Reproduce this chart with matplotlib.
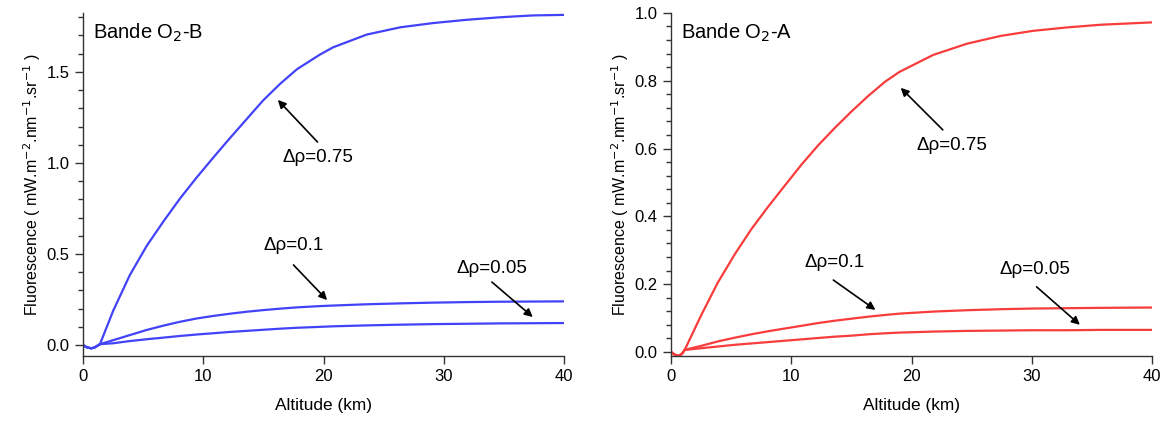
import numpy as np
import matplotlib.pyplot as plt
from matplotlib.ticker import MultipleLocator

plt.rcParams['font.family'] = ['Liberation Sans', 'DejaVu Sans']

# Bande O2-B : altitude (km) and fluorescence for each delta rho
alt_b = [0, 0.3, 0.7, 1.0, 1.41, 2.52, 3.9, 5.3, 6.7, 8.07, 9.45, 10.84, 12.2, 13.6, 15.0, 16.4,
         17.8, 19.7, 20.8, 23.6, 26.4, 29.1, 31.9, 34.7, 37.4, 40]
b_075 = [0, -0.012, -0.018, -0.012, 0.005, 0.19, 0.385, 0.545, 0.68, 0.805, 0.92, 1.03, 1.135, 1.24, 1.345, 1.435,
         1.515, 1.595, 1.635, 1.705, 1.745, 1.768, 1.786, 1.80, 1.81, 1.813]
b_010 = [0, -0.012, -0.018, -0.012, 0.005, 0.027, 0.055, 0.083, 0.107, 0.128, 0.146, 0.16, 0.172, 0.183, 0.192, 0.2,
         0.207, 0.214, 0.217, 0.224, 0.229, 0.233, 0.236, 0.238, 0.239, 0.24]
b_005 = [0, -0.012, -0.018, -0.012, 0.005, 0.01, 0.022, 0.032, 0.041, 0.05, 0.058, 0.065, 0.072, 0.078, 0.084, 0.09,
         0.095, 0.1, 0.103, 0.108, 0.112, 0.115, 0.117, 0.119, 0.12, 0.121]

# Bande O2-A
alt_a = [0, 0.3, 0.6, 0.9, 1.14, 2.52, 3.9, 5.3, 6.68, 8.07, 9.45, 10.84, 12.2, 13.6, 15.0, 16.4,
         17.8, 19.0, 21.8, 24.6, 27.4, 30.1, 32.9, 35.7, 40]
a_075 = [0, -0.008, -0.012, -0.006, 0.006, 0.109, 0.205, 0.288, 0.362, 0.428, 0.49, 0.552, 0.608, 0.66, 0.709, 0.755,
         0.797, 0.826, 0.876, 0.909, 0.932, 0.947, 0.957, 0.965, 0.972]
a_010 = [0, -0.008, -0.012, -0.006, 0.006, 0.018, 0.031, 0.042, 0.052, 0.061, 0.069, 0.077, 0.085, 0.092, 0.098, 0.104,
         0.109, 0.113, 0.119, 0.123, 0.126, 0.128, 0.129, 0.13, 0.131]
a_005 = [0, -0.008, -0.012, -0.006, 0.006, 0.011, 0.016, 0.021, 0.025, 0.029, 0.033, 0.037, 0.041, 0.045, 0.048, 0.052,
         0.055, 0.057, 0.06, 0.062, 0.063, 0.064, 0.064, 0.065, 0.065]

fig = plt.figure(figsize=(11.69, 4.21), dpi=100)
ax1 = fig.add_axes([0.071, 0.1544, 0.4115, 0.815])
ax2 = fig.add_axes([0.574, 0.1544, 0.4115, 0.815])

blue = '#4242f8'
red = '#f83c3c'

for y in (b_075, b_010, b_005):
    ax1.plot(alt_b, y, color=blue, lw=1.6)
for y in (a_075, a_010, a_005):
    ax2.plot(alt_a, y, color=red, lw=1.6)

ax1.set_ylim(-0.06, 1.824)
ax2.set_ylim(-0.012, 1.0)
ax1.yaxis.set_major_locator(MultipleLocator(0.5))
ax1.yaxis.set_minor_locator(MultipleLocator(0.1))
ax2.yaxis.set_major_locator(MultipleLocator(0.2))
ax2.yaxis.set_minor_locator(MultipleLocator(0.04))

ylab = 'Fluorescence ( mW.m$^{-2}$.nm$^{-1}$.sr$^{-1}$ )'
for ax, name in ((ax1, 'Bande O$_2$-B'), (ax2, 'Bande O$_2$-A')):
    ax.set_xlim(0, 40)
    ax.set_xticks([0, 10, 20, 30, 40])
    ax.yaxis.set_major_formatter(plt.FormatStrFormatter('%.1f'))
    for s in ('top', 'right'):
        ax.spines[s].set_visible(False)
    for s in ('left', 'bottom'):
        ax.spines[s].set_color('#333333')
        ax.spines[s].set_linewidth(1.0)
    ax.tick_params(axis='both', which='major', direction='out', length=6, width=1, color='#333333', labelsize=12)
    ax.tick_params(axis='y', which='minor', direction='out', length=3.5, width=1, color='#333333')
    ax.set_xlabel('Altitude (km)', fontsize=12.4, labelpad=10)
    ax.set_ylabel(ylab, fontsize=11.5, labelpad=3)
    ax.text(0.02, 0.975, name, transform=ax.transAxes, fontsize=14.5, va='top', ha='left')

arrow = dict(arrowstyle='-|>', color='black', lw=1.2, mutation_scale=12, shrinkA=0, shrinkB=0)
fs = 13.5

# annotations panel B
ax1.text(19.5, 1.03, '\u0394\u03c1=0.75', fontsize=fs, ha='center', va='center')
ax1.annotate('', xy=(16.2, 1.346), xytext=(19.5, 1.115), arrowprops=arrow)
ax1.text(17.5, 0.544, '\u0394\u03c1=0.1', fontsize=fs, ha='center', va='center')
ax1.annotate('', xy=(20.3, 0.247), xytext=(17.5, 0.44), arrowprops=arrow)
ax1.text(34.0, 0.423, '\u0394\u03c1=0.05', fontsize=fs, ha='center', va='center')
ax1.annotate('', xy=(37.4, 0.154), xytext=(34.0, 0.346), arrowprops=arrow)

# annotations panel A
ax2.text(23.4, 0.61, '\u0394\u03c1=0.75', fontsize=fs, ha='center', va='center')
ax2.annotate('', xy=(19.1, 0.779), xytext=(22.6, 0.655), arrowprops=arrow)
ax2.text(13.6, 0.265, '\u0394\u03c1=0.1', fontsize=fs, ha='center', va='center')
ax2.annotate('', xy=(17.0, 0.124), xytext=(13.5, 0.212), arrowprops=arrow)
ax2.text(30.3, 0.242, '\u0394\u03c1=0.05', fontsize=fs, ha='center', va='center')
ax2.annotate('', xy=(34.0, 0.08), xytext=(30.4, 0.192), arrowprops=arrow)

fig.savefig('out.png', dpi=100)
